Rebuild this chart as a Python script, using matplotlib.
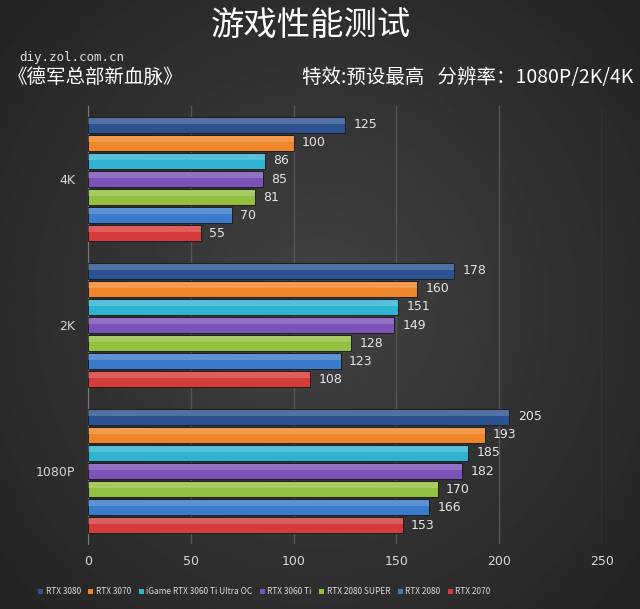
import numpy as np
import matplotlib.pyplot as plt
from matplotlib.patches import Patch

plt.rcParams['font.family'] = ['Noto Sans CJK SC', 'DejaVu Sans']

resolutions = ['4K', '2K', '1080P']
gpus = ['RTX 3080', 'RTX 3070', 'iGame RTX 3060 Ti Ultra OC', 'RTX 3060 Ti',
        'RTX 2080 SUPER', 'RTX 2080', 'RTX 2070']
rtx3080 = [125, 178, 205]
rtx3070 = [100, 160, 193]
igame3060ti = [86, 151, 185]
rtx3060ti = [85, 149, 182]
rtx2080s = [81, 128, 170]
rtx2080 = [70, 123, 166]
rtx2070 = [55, 108, 153]
series = [rtx3080, rtx3070, igame3060ti, rtx3060ti, rtx2080s, rtx2080, rtx2070]
colors = ['#2b5391', '#f0862a', '#2fb3d3', '#7a52b8', '#93c03e', '#3a7bcc', '#d63b3b']

fig = plt.figure(figsize=(6.4, 6.09), dpi=100)

# dark radial background
bg = fig.add_axes([0, 0, 1, 1], zorder=-10)
yy, xx = np.mgrid[-1:1:300j, -1:1:300j]
r = np.sqrt(xx**2 + (yy * 0.9)**2)
bg.imshow(0.26 - 0.09 * np.clip(r, 0, 1.4), cmap='gray', vmin=0, vmax=1,
          aspect='auto', extent=[0, 1, 0, 1])
bg.axis('off')

ax = fig.add_axes([88/640, 1 - 544/609, (602 - 88)/640, (544 - 106)/609])
ax.set_facecolor('none')

w = 0.1233
y = np.arange(len(resolutions))
for j, (vals, c) in enumerate(zip(series, colors)):
    pos = y + (j - 3) * w
    ax.barh(pos, vals, height=w * 0.92, color=c, edgecolor='#1e1e1e', linewidth=0.7,
            label=gpus[j], zorder=3)
    # bevel highlight
    ax.barh(pos - w * 0.22, vals, height=w * 0.3, color='white', alpha=0.18,
            linewidth=0, zorder=4)
    for p, v in zip(pos, vals):
        ax.text(v + 4, p, str(v), va='center', ha='left', color='#e6e6e6',
                fontsize=9, family='DejaVu Sans', zorder=5)

ax.set_ylim(2.5, -0.5)
ax.set_xlim(0, 250)
ax.set_xticks([0, 50, 100, 150, 200, 250])
ax.set_yticks(y)
ax.set_yticklabels(resolutions)
ax.xaxis.grid(True, color='#555555', linewidth=1, zorder=0)
ax.tick_params(colors='#d8d8d8', labelsize=9, length=0)
ax.tick_params(axis='x', pad=8)
ax.tick_params(axis='y', pad=9)
for s in ['top', 'right', 'bottom']:
    ax.spines[s].set_visible(False)
ax.spines['left'].set_color('#7a7a7a')
for lab in ax.get_xticklabels() + ax.get_yticklabels():
    lab.set_family('DejaVu Sans')

fig.text(0.485, 0.958, '游戏性能测试', ha='center', va='center', color='white', fontsize=24)
fig.text(0.03, 0.906, 'diy.zol.com.cn', ha='left', va='center', color='#e0e0e0',
         fontsize=9, family='DejaVu Sans Mono')
fig.text(0.012, 0.873, '《德军总部新血脉》', ha='left', va='center', color='white', fontsize=14)
fig.text(0.99, 0.873, '特效:预设最高   分辨率：1080P/2K/4K', ha='right', va='center',
         color='white', fontsize=14)

handles = [Patch(facecolor=c, edgecolor='none', label=g) for g, c in zip(gpus, colors)]
fig.legend(handles=handles, loc='center', bbox_to_anchor=(0.413, 0.028), ncol=7,
           frameon=False, fontsize=6, labelcolor='#dddddd', handlelength=0.6,
           handleheight=0.6, handletextpad=0.3, columnspacing=0.9)

fig.savefig('out.png', dpi=100)
